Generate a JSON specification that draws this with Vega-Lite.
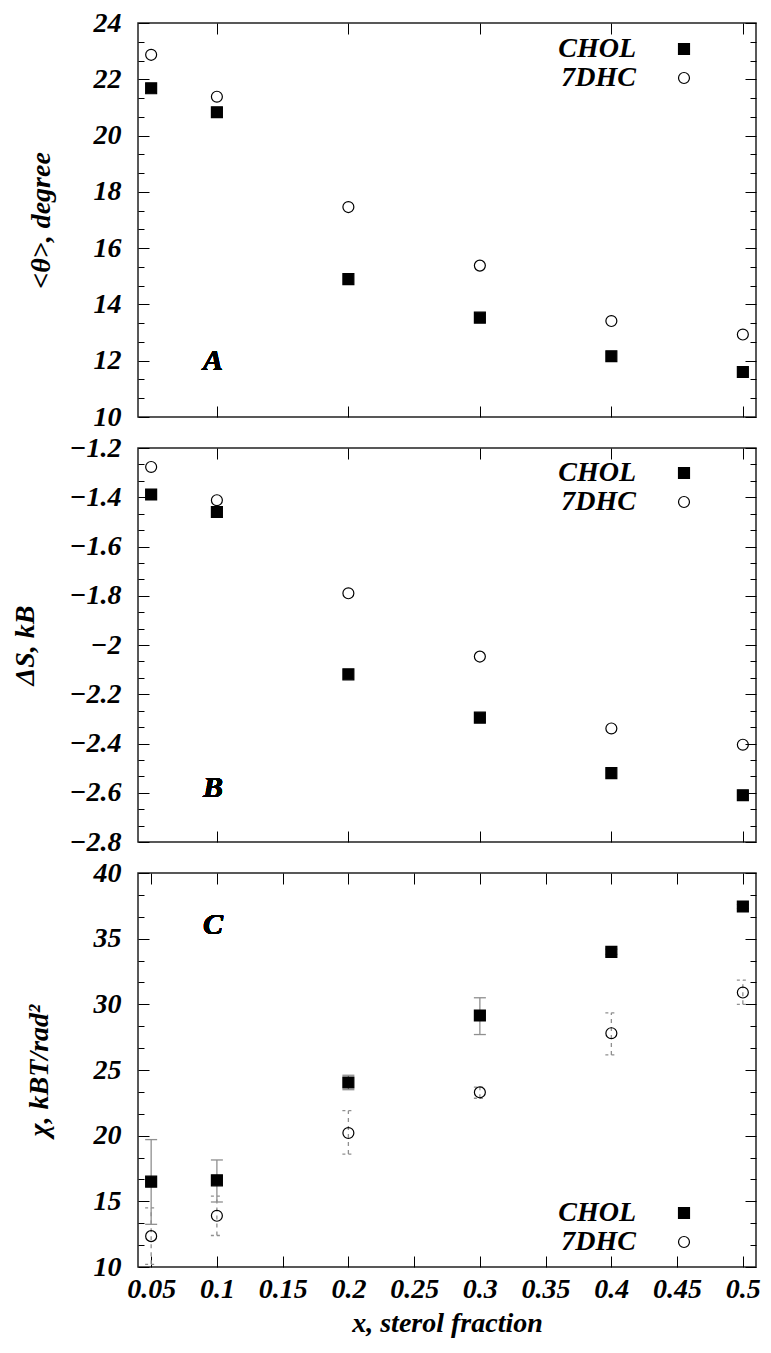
{
  "$schema": "https://vega.github.io/schema/vega-lite/v6.json",
  "padding": {"left": 10, "top": 8, "right": 5, "bottom": 5},
  "data": {"values": [
    {"x": 0.05, "sterol": "CHOL", "theta": 21.68, "dS": -1.389, "chi": 16.5, "chi_lo": 13.25, "chi_hi": 19.7},
    {"x": 0.1, "sterol": "CHOL", "theta": 20.83, "dS": -1.46, "chi": 16.6, "chi_lo": 14.95, "chi_hi": 18.15},
    {"x": 0.2, "sterol": "CHOL", "theta": 14.9, "dS": -2.119, "chi": 24.05, "chi_lo": 23.5, "chi_hi": 24.6},
    {"x": 0.3, "sterol": "CHOL", "theta": 13.53, "dS": -2.295, "chi": 29.15, "chi_lo": 27.7, "chi_hi": 30.5},
    {"x": 0.4, "sterol": "CHOL", "theta": 12.16, "dS": -2.52, "chi": 34.0, "chi_lo": 33.8, "chi_hi": 34.2},
    {"x": 0.5, "sterol": "CHOL", "theta": 11.6, "dS": -2.61, "chi": 37.45, "chi_lo": 37.3, "chi_hi": 37.6},
    {"x": 0.05, "sterol": "7DHC", "theta": 22.87, "dS": -1.277, "chi": 12.35, "chi_lo": 10.2, "chi_hi": 14.5},
    {"x": 0.1, "sterol": "7DHC", "theta": 21.38, "dS": -1.412, "chi": 13.9, "chi_lo": 12.4, "chi_hi": 15.4},
    {"x": 0.2, "sterol": "7DHC", "theta": 17.46, "dS": -1.79, "chi": 20.2, "chi_lo": 18.6, "chi_hi": 21.9},
    {"x": 0.3, "sterol": "7DHC", "theta": 15.38, "dS": -2.047, "chi": 23.3, "chi_lo": 22.85, "chi_hi": 23.7},
    {"x": 0.4, "sterol": "7DHC", "theta": 13.41, "dS": -2.339, "chi": 27.8, "chi_lo": 26.15, "chi_hi": 29.35},
    {"x": 0.5, "sterol": "7DHC", "theta": 12.93, "dS": -2.405, "chi": 30.9, "chi_lo": 30.0, "chi_hi": 31.85}
  ]},
  "bounds": "flush",
  "spacing": 31,
  "vconcat": [
    {
      "width": 618, "height": 394,
      "layer": [
        {
          "mark": {"type": "point", "filled": true, "opacity": 1, "strokeWidth": 1.2, "size": 120},
          "encoding": {
            "x": {"field": "x", "type": "quantitative", "scale": {"domain": [0.04, 0.51], "nice": false, "zero": false},
                  "axis": {"orient": "bottom", "values": [0.1, 0.2, 0.3, 0.4, 0.5], "labels": false, "title": null, "tickSize": -11}},
            "y": {"field": "theta", "type": "quantitative", "scale": {"domain": [10, 24], "nice": false, "zero": false},
                  "axis": {"orient": "left", "values": [10, 10.6667, 11.3333, 12, 12.6667, 13.3333, 14, 14.6667, 15.3333, 16, 16.6667, 17.3333, 18, 18.6667, 19.3333, 20, 20.6667, 21.3333, 22, 22.6667, 23.3333, 24],
                           "title": "<θ>, degree", "titlePadding": 38, "labelPadding": 28,
                           "tickSize": {"condition": {"test": "abs(datum.value - round(datum.value)) < 0.01", "value": -11}, "value": -6},
                           "labelExpr": "abs(datum.value - round(datum.value)) < 0.01 ? datum.label : ''"}},
            "shape": {"field": "sterol", "type": "nominal", "scale": {"domain": ["CHOL", "7DHC"], "range": ["square", "circle"]},
                      "legend": {"title": null, "orient": "none", "legendX": 532, "legendY": 12, "labelAlign": "right", "labelOffset": -62, "rowPadding": 1}},
            "fill": {"field": "sterol", "type": "nominal", "scale": {"domain": ["CHOL", "7DHC"], "range": ["black", "transparent"]},
                     "legend": {"title": null, "orient": "none", "legendX": 532, "legendY": 12, "labelAlign": "right", "labelOffset": -62, "rowPadding": 1}},
            "stroke": {"field": "sterol", "type": "nominal", "scale": {"domain": ["CHOL", "7DHC"], "range": ["black", "black"]},
                       "legend": {"title": null, "orient": "none", "legendX": 532, "legendY": 12, "labelAlign": "right", "labelOffset": -62, "rowPadding": 1}}
          }
        },
        {
          "mark": {"type": "text", "text": "A", "fontSize": 30, "fontWeight": "bold", "fontStyle": "italic", "font": "'Liberation Serif', 'Times New Roman', Times, serif", "fill": "black", "baseline": "middle", "align": "center"},
          "encoding": {
            "x": {"datum": 0.097, "type": "quantitative", "axis": {"orient": "top", "values": [0.1, 0.2, 0.3, 0.4, 0.5], "labels": false, "title": null, "tickSize": -11}},
            "y": {"datum": 12, "type": "quantitative", "axis": {"orient": "right", "values": [10, 10.6667, 11.3333, 12, 12.6667, 13.3333, 14, 14.6667, 15.3333, 16, 16.6667, 17.3333, 18, 18.6667, 19.3333, 20, 20.6667, 21.3333, 22, 22.6667, 23.3333, 24],
                  "labels": false, "title": null,
                  "tickSize": {"condition": {"test": "abs(datum.value - round(datum.value)) < 0.01", "value": -11}, "value": -6}}}
          }
        }
      ],
      "resolve": {"axis": {"x": "independent", "y": "independent"}}
    },
    {
      "width": 618, "height": 394,
      "layer": [
        {
          "mark": {"type": "point", "filled": true, "opacity": 1, "strokeWidth": 1.2, "size": 120},
          "encoding": {
            "x": {"field": "x", "type": "quantitative", "scale": {"domain": [0.04, 0.51], "nice": false, "zero": false},
                  "axis": {"orient": "bottom", "values": [0.1, 0.2, 0.3, 0.4, 0.5], "labels": false, "title": null, "tickSize": -11}},
            "y": {"field": "dS", "type": "quantitative", "scale": {"domain": [-2.8, -1.2], "nice": false, "zero": false},
                  "axis": {"orient": "left", "values": [-2.8, -2.7333, -2.6667, -2.6, -2.5333, -2.4667, -2.4, -2.3333, -2.2667, -2.2, -2.1333, -2.0667, -2, -1.9333, -1.8667, -1.8, -1.7333, -1.6667, -1.6, -1.5333, -1.4667, -1.4, -1.3333, -1.2667, -1.2],
                           "title": "ΔS, kB", "titlePadding": 30, "labelPadding": 28,
                           "tickSize": {"condition": {"test": "abs(datum.value * 5 - round(datum.value * 5)) < 0.01", "value": -11}, "value": -6},
                           "labelExpr": "abs(datum.value * 5 - round(datum.value * 5)) < 0.01 ? datum.label : ''"}},
            "shape": {"field": "sterol", "type": "nominal", "scale": {"domain": ["CHOL", "7DHC"], "range": ["square", "circle"]},
                      "legend": {"title": null, "orient": "none", "legendX": 532, "legendY": 11, "labelAlign": "right", "labelOffset": -62, "rowPadding": 1}},
            "fill": {"field": "sterol", "type": "nominal", "scale": {"domain": ["CHOL", "7DHC"], "range": ["black", "transparent"]},
                     "legend": {"title": null, "orient": "none", "legendX": 532, "legendY": 11, "labelAlign": "right", "labelOffset": -62, "rowPadding": 1}},
            "stroke": {"field": "sterol", "type": "nominal", "scale": {"domain": ["CHOL", "7DHC"], "range": ["black", "black"]},
                       "legend": {"title": null, "orient": "none", "legendX": 532, "legendY": 11, "labelAlign": "right", "labelOffset": -62, "rowPadding": 1}}
          }
        },
        {
          "mark": {"type": "text", "text": "B", "fontSize": 30, "fontWeight": "bold", "fontStyle": "italic", "font": "'Liberation Serif', 'Times New Roman', Times, serif", "fill": "black", "baseline": "middle", "align": "center"},
          "encoding": {
            "x": {"datum": 0.097, "type": "quantitative", "axis": {"orient": "top", "values": [0.1, 0.2, 0.3, 0.4, 0.5], "labels": false, "title": null, "tickSize": -11}},
            "y": {"datum": -2.58, "type": "quantitative", "axis": {"orient": "right", "values": [-2.8, -2.7333, -2.6667, -2.6, -2.5333, -2.4667, -2.4, -2.3333, -2.2667, -2.2, -2.1333, -2.0667, -2, -1.9333, -1.8667, -1.8, -1.7333, -1.6667, -1.6, -1.5333, -1.4667, -1.4, -1.3333, -1.2667, -1.2],
                  "labels": false, "title": null,
                  "tickSize": {"condition": {"test": "abs(datum.value * 5 - round(datum.value * 5)) < 0.01", "value": -11}, "value": -6}}}
          }
        }
      ],
      "resolve": {"axis": {"x": "independent", "y": "independent"}}
    },
    {
      "width": 618, "height": 394,
      "layer": [
        {
          "transform": [{"filter": "datum.sterol === 'CHOL'"}],
          "mark": {"type": "rule", "stroke": "#8f8f8f", "strokeWidth": 1.3},
          "encoding": {
            "x": {"field": "x", "type": "quantitative", "scale": {"domain": [0.04, 0.51], "nice": false, "zero": false}, "axis": null},
            "y": {"field": "chi_lo", "type": "quantitative", "scale": {"domain": [10, 40], "nice": false, "zero": false}, "axis": null},
            "y2": {"field": "chi_hi"}
          }
        },
        {
          "transform": [{"filter": "datum.sterol === 'CHOL'"}],
          "mark": {"type": "rule", "stroke": "#8f8f8f", "strokeWidth": 1.3, "xOffset": -6, "x2Offset": 6},
          "encoding": {
            "x": {"field": "x", "type": "quantitative", "axis": null},
            "x2": {"field": "x"},
            "y": {"field": "chi_lo", "type": "quantitative", "axis": null}
          }
        },
        {
          "transform": [{"filter": "datum.sterol === 'CHOL'"}],
          "mark": {"type": "rule", "stroke": "#8f8f8f", "strokeWidth": 1.3, "xOffset": -6, "x2Offset": 6},
          "encoding": {
            "x": {"field": "x", "type": "quantitative", "axis": null},
            "x2": {"field": "x"},
            "y": {"field": "chi_hi", "type": "quantitative", "axis": null}
          }
        },
        {
          "transform": [{"filter": "datum.sterol === '7DHC'"}],
          "mark": {"type": "rule", "stroke": "#8f8f8f", "strokeWidth": 1.3, "strokeDash": [4, 4]},
          "encoding": {
            "x": {"field": "x", "type": "quantitative", "axis": null},
            "y": {"field": "chi_lo", "type": "quantitative", "axis": null},
            "y2": {"field": "chi_hi"}
          }
        },
        {
          "transform": [{"filter": "datum.sterol === '7DHC'"}],
          "mark": {"type": "rule", "stroke": "#8f8f8f", "strokeWidth": 1.3, "strokeDash": [3, 3], "xOffset": -6, "x2Offset": 6},
          "encoding": {
            "x": {"field": "x", "type": "quantitative", "axis": null},
            "x2": {"field": "x"},
            "y": {"field": "chi_lo", "type": "quantitative", "axis": null}
          }
        },
        {
          "transform": [{"filter": "datum.sterol === '7DHC'"}],
          "mark": {"type": "rule", "stroke": "#8f8f8f", "strokeWidth": 1.3, "strokeDash": [3, 3], "xOffset": -6, "x2Offset": 6},
          "encoding": {
            "x": {"field": "x", "type": "quantitative", "axis": null},
            "x2": {"field": "x"},
            "y": {"field": "chi_hi", "type": "quantitative", "axis": null}
          }
        },
        {
          "mark": {"type": "point", "filled": true, "opacity": 1, "strokeWidth": 1.2, "size": 120},
          "encoding": {
            "x": {"field": "x", "type": "quantitative",
                  "axis": {"orient": "bottom", "values": [0.05, 0.1, 0.15, 0.2, 0.25, 0.3, 0.35, 0.4, 0.45, 0.5], "title": "x, sterol fraction", "tickSize": -11, "labelPadding": 19, "titlePadding": 6}},
            "y": {"field": "chi", "type": "quantitative",
                  "axis": {"orient": "left", "values": [10, 11.6667, 13.3333, 15, 16.6667, 18.3333, 20, 21.6667, 23.3333, 25, 26.6667, 28.3333, 30, 31.6667, 33.3333, 35, 36.6667, 38.3333, 40],
                           "title": "χ, kBT/rad²", "titlePadding": 40, "labelPadding": 28,
                           "tickSize": {"condition": {"test": "abs(datum.value / 5 - round(datum.value / 5)) < 0.01", "value": -11}, "value": -6},
                           "labelExpr": "abs(datum.value / 5 - round(datum.value / 5)) < 0.01 ? datum.label : ''"}},
            "shape": {"field": "sterol", "type": "nominal", "scale": {"domain": ["CHOL", "7DHC"], "range": ["square", "circle"]},
                      "legend": {"title": null, "orient": "none", "legendX": 532, "legendY": 326, "labelAlign": "right", "labelOffset": -62, "rowPadding": 1}},
            "fill": {"field": "sterol", "type": "nominal", "scale": {"domain": ["CHOL", "7DHC"], "range": ["black", "transparent"]},
                     "legend": {"title": null, "orient": "none", "legendX": 532, "legendY": 326, "labelAlign": "right", "labelOffset": -62, "rowPadding": 1}},
            "stroke": {"field": "sterol", "type": "nominal", "scale": {"domain": ["CHOL", "7DHC"], "range": ["black", "black"]},
                       "legend": {"title": null, "orient": "none", "legendX": 532, "legendY": 326, "labelAlign": "right", "labelOffset": -62, "rowPadding": 1}}
          }
        },
        {
          "mark": {"type": "text", "text": "C", "fontSize": 30, "fontWeight": "bold", "fontStyle": "italic", "font": "'Liberation Serif', 'Times New Roman', Times, serif", "fill": "black", "baseline": "middle", "align": "center"},
          "encoding": {
            "x": {"datum": 0.097, "type": "quantitative", "axis": {"orient": "top", "values": [0.05, 0.1, 0.15, 0.2, 0.25, 0.3, 0.35, 0.4, 0.45, 0.5], "labels": false, "title": null, "tickSize": -11}},
            "y": {"datum": 36.06, "type": "quantitative", "axis": {"orient": "right", "values": [10, 11.6667, 13.3333, 15, 16.6667, 18.3333, 20, 21.6667, 23.3333, 25, 26.6667, 28.3333, 30, 31.6667, 33.3333, 35, 36.6667, 38.3333, 40],
                  "labels": false, "title": null,
                  "tickSize": {"condition": {"test": "abs(datum.value / 5 - round(datum.value / 5)) < 0.01", "value": -11}, "value": -6}}}
          }
        }
      ],
      "resolve": {"axis": {"x": "independent", "y": "independent"}}
    }
  ],
  "resolve": {
    "scale": {"shape": "independent", "fill": "independent", "stroke": "independent"},
    "legend": {"shape": "independent", "fill": "independent", "stroke": "independent"}
  },
  "config": {
    "view": {"stroke": "#222222", "strokeWidth": 1.5},
    "axis": {"domain": false, "grid": false, "tickColor": "black", "tickWidth": 1,
             "labelFont": "'Liberation Serif', 'Times New Roman', Times, serif", "labelFontSize": 28, "labelFontWeight": "bold", "labelFontStyle": "italic", "labelColor": "black",
             "titleFont": "'Liberation Serif', 'Times New Roman', Times, serif", "titleFontSize": 28, "titleFontWeight": "bold", "titleFontStyle": "italic", "titleColor": "black",
             "labelOverlap": false, "labelFlush": false, "format": "~g"},
    "legend": {"labelFont": "'Liberation Serif', 'Times New Roman', Times, serif", "labelFontSize": 28, "labelFontWeight": "bold", "labelFontStyle": "italic", "labelColor": "black",
               "labelBaseline": "middle", "symbolSize": 120, "symbolStrokeWidth": 1.2, "labelLimit": 300}
  }
}
